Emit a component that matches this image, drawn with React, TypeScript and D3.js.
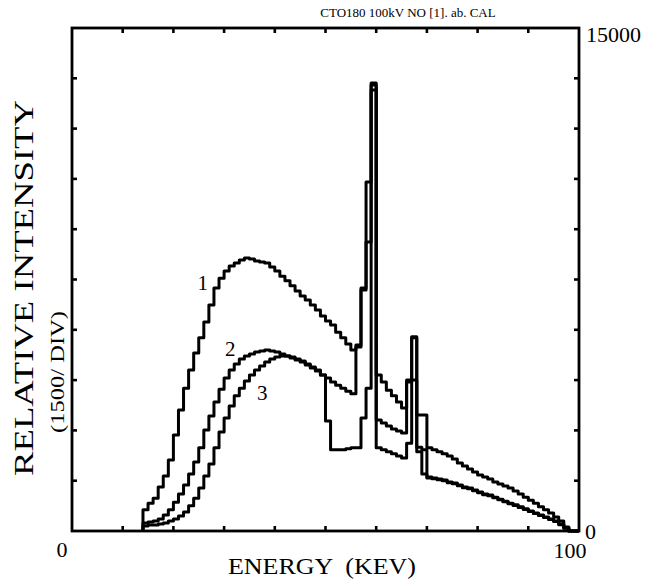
import React from "react";
import * as d3 from "d3";

const TITLE = "CTO180 100kV NO [1]. ab. CAL";
const X_LABEL = "ENERGY  (KEV)";
const Y_LABEL = "RELATIVE INTENSITY";
const Y_SUBLABEL = "(1500/ DIV)";
const X_TICK_LABELS = ["0", "100"];
const Y_TICK_LABELS = ["0", "15000"];

const START_KEV = 14; // first 1-keV bin
// counts per 1-keV bin, bins 14..99 keV
const SPECTRUM_1 = [
  630, 830, 980, 1310, 1640, 2120, 2860, 3610, 4260, 4800,
  5310, 5760, 6230, 6740, 7250, 7540, 7750, 7900, 7990, 8080,
  8140, 8110, 8050, 8020, 7990, 7870, 7750, 7600, 7460, 7310,
  7160, 7010, 6890, 6740, 6590, 6410, 6260, 6140, 5930, 5760,
  5580, 5400, 5550, 7250, 10410, 13360, 4650, 4440, 4200, 4030,
  3850, 3670, 4500, 5790, 3460, 3460, 2480, 2420, 2360, 2300,
  2240, 2150, 2030, 1940, 1850, 1760, 1670, 1610, 1550, 1460,
  1400, 1340, 1280, 1190, 1100, 1010, 920, 830, 720, 630,
  540, 420, 300, 120, 0, 0,
];
const SPECTRUM_2 = [
  240, 270, 300, 360, 480, 630, 860, 1100, 1370, 1700,
  2060, 2480, 3010, 3430, 3850, 4230, 4560, 4800, 4980, 5130,
  5220, 5280, 5340, 5370, 5400, 5370, 5340, 5280, 5220, 5160,
  5100, 5040, 4950, 4860, 4770, 4650, 4560, 4440, 4350, 4260,
  4170, 4090, 5490, 7190, 8620, 13300, 3310, 3220, 3130, 3040,
  2980, 2920, 4440, 5760, 2500, 2420, 1610, 1580, 1550, 1520,
  1460, 1430, 1370, 1310, 1280, 1220, 1160, 1100, 1070, 1010,
  950, 890, 830, 780, 720, 660, 600, 540, 480, 420,
  360, 300, 210, 90, 0, 0,
];
const SPECTRUM_3 = [
  150, 180, 180, 210, 240, 300, 360, 450, 570, 750,
  980, 1280, 1640, 2000, 2480, 2950, 3370, 3730, 4030, 4260,
  4470, 4650, 4800, 4920, 5040, 5130, 5190, 5220, 5220, 5190,
  5130, 5070, 4980, 4890, 4800, 4650, 3280, 2420, 2420, 2420,
  2450, 2480, 2480, 3370, 4260, 13150, 2480, 2420, 2360, 2300,
  2240, 2180, 2620, 4500, 2360, 1700, 1580, 1560, 1530, 1500,
  1440, 1410, 1350, 1290, 1260, 1200, 1140, 1080, 1050, 990,
  930, 870, 810, 760, 700, 640, 580, 520, 460, 400,
  340, 280, 190, 80, 0, 0,
];
const SERIES = [SPECTRUM_1, SPECTRUM_2, SPECTRUM_3];
const SERIES_NAMES = ["1", "2", "3"];
// label anchor (keV, intensity) for each curve number
const LABEL_KEV = [25.8, 31.2, 37.5];
const LABEL_INT = [7190, 5220, 3910];

const W = 646;
const H = 579;
const M = { left: 72, right: 67, top: 28, bottom: 48 };
const FONT = "'Liberation Serif', 'DejaVu Serif', serif";

export default function App() {
  const x = d3.scaleLinear().domain([0, 100]).range([M.left, W - M.right]);
  const y = d3.scaleLinear().domain([0, 15000]).range([H - M.bottom, M.top]);
  const xTicks = d3.range(10, 100, 10);
  const yTicks = d3.range(1500, 15000, 1500);
  const tickLen = 5;

  const line = d3
    .line<[number, number]>()
    .x((d) => x(d[0]))
    .y((d) => y(d[1]))
    .curve(d3.curveStepAfter);

  const paths = SERIES.map((vals) => {
    const pts: [number, number][] = [[START_KEV, 0]];
    vals.forEach((v, i) => pts.push([START_KEV + i, v]));
    pts.push([START_KEV + vals.length, vals[vals.length - 1]]);
    return line(pts) as string;
  });

  const [x0, x1] = x.range();
  const [y0, y1] = y.range();

  return (
    <svg
      width={W}
      height={H}
      style={{ position: "absolute", left: 0, top: 0, background: "#fff" }}
      fontFamily={FONT}
    >
      <rect x={0} y={0} width={W} height={H} fill="#fff" />
      {/* curves */}
      {paths.map((d, i) => (
        <path
          key={i}
          d={d}
          fill="none"
          stroke="#000"
          strokeWidth={3}
          strokeLinejoin="round"
        />
      ))}
      {/* frame */}
      <rect
        x={x0}
        y={y1}
        width={x1 - x0}
        height={y0 - y1}
        fill="none"
        stroke="#000"
        strokeWidth={2.8}
      />
      {/* ticks */}
      {xTicks.map((t) => (
        <g key={"xt" + t} stroke="#000" strokeWidth={2.6}>
          <line x1={x(t)} x2={x(t)} y1={y0} y2={y0 - tickLen} />
          <line x1={x(t)} x2={x(t)} y1={y1} y2={y1 + tickLen} />
        </g>
      ))}
      {yTicks.map((t) => (
        <g key={"yt" + t} stroke="#000" strokeWidth={2.6}>
          <line x1={x0} x2={x0 + tickLen} y1={y(t)} y2={y(t)} />
          <line x1={x1} x2={x1 - tickLen} y1={y(t)} y2={y(t)} />
        </g>
      ))}
      {/* curve numbers */}
      {SERIES_NAMES.map((n, i) => (
        <text
          key={"lab" + n}
          x={x(LABEL_KEV[i])}
          y={y(LABEL_INT[i])}
          fontSize={21}
          textAnchor="middle"
          fill="#000"
        >
          {n}
        </text>
      ))}
      {/* axis numbers */}
      <text x={x(0) - 10} y={557} fontSize={22} textAnchor="middle" fill="#000">
        {X_TICK_LABELS[0]}
      </text>
      <text x={x(100) - 9} y={558} fontSize={22} textAnchor="middle" fill="#000">
        {X_TICK_LABELS[1]}
      </text>
      <text x={x1 + 6} y={y(0) + 8} fontSize={22} fill="#000">
        {Y_TICK_LABELS[0]}
      </text>
      <text x={x1 + 7} y={y(15000) + 14} fontSize={22} fill="#000">
        {Y_TICK_LABELS[1]}
      </text>
      {/* axis titles */}
      <text
        x={322}
        y={574}
        fontSize={24}
        textAnchor="middle"
        fill="#000"
        textLength={188}
        lengthAdjust="spacingAndGlyphs"
        style={{ whiteSpace: "pre" }}
      >
        {X_LABEL}
      </text>
      <text
        transform={`translate(33, 288) rotate(-90)`}
        fontSize={28}
        textAnchor="middle"
        fill="#000"
        textLength={376}
        lengthAdjust="spacingAndGlyphs"
      >
        {Y_LABEL}
      </text>
      <text
        transform={`translate(64, 372) rotate(-90)`}
        fontSize={19}
        textAnchor="middle"
        fill="#000"
        textLength={122}
        lengthAdjust="spacingAndGlyphs"
      >
        {Y_SUBLABEL}
      </text>
      {/* title */}
      <text x={408} y={17} fontSize={13} textAnchor="middle" fill="#000">
        {TITLE}
      </text>
    </svg>
  );
}
